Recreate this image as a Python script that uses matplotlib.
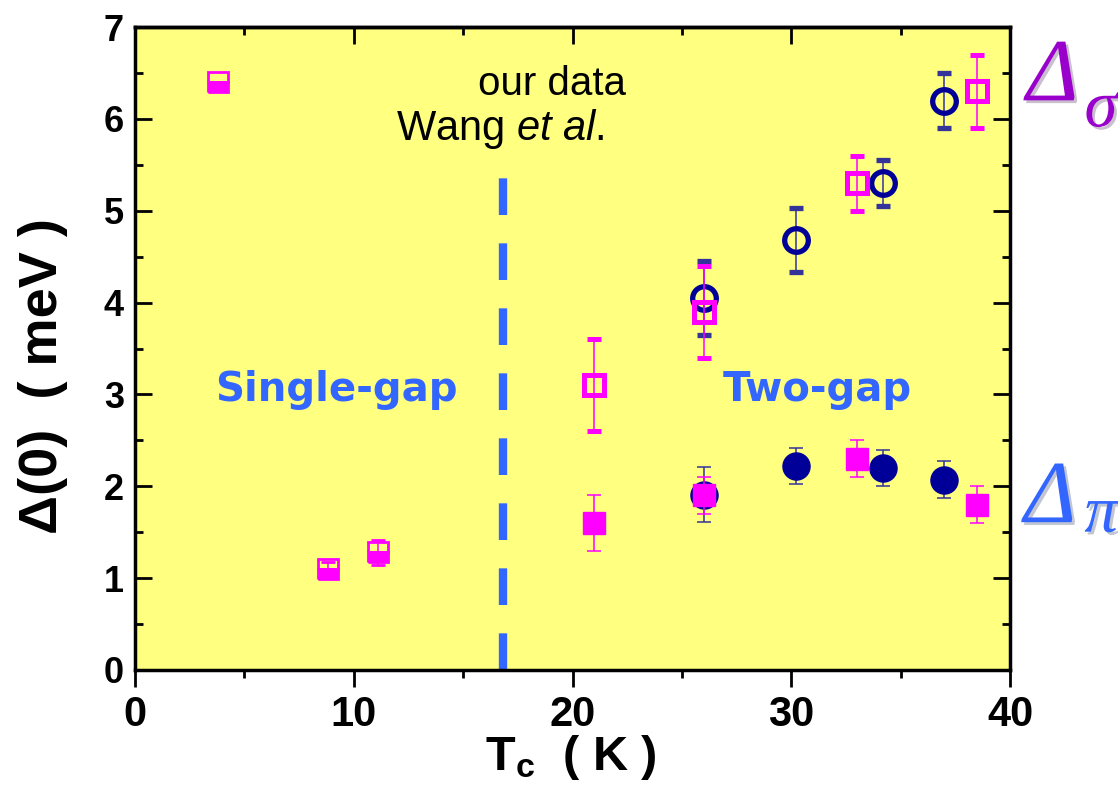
import matplotlib.pyplot as plt
import matplotlib.patheffects as pe
from matplotlib.ticker import MultipleLocator

plt.rcParams['mathtext.fontset'] = 'custom'
plt.rcParams['mathtext.rm'] = 'Liberation Sans'
plt.rcParams['mathtext.it'] = 'Liberation Sans:italic'
plt.rcParams['mathtext.bf'] = 'Liberation Sans:bold'

# sigma gap, our data (open circles) and pi gap (filled circles)
tc_ours = [26.0, 30.2, 34.2, 37.0]
sig_ours = [4.05, 4.68, 5.30, 6.20]
sig_ours_err = [0.40, 0.35, 0.25, 0.30]
pi_ours = [1.91, 2.22, 2.20, 2.07]
pi_ours_err = [0.30, 0.20, 0.20, 0.20]

# Wang et al., two-gap samples
tc_wang = [21.0, 26.0, 33.0, 38.5]
sig_wang = [3.10, 3.90, 5.30, 6.30]
sig_wang_err = [0.50, 0.50, 0.30, 0.40]
pi_wang = [1.60, 1.90, 2.30, 1.80]
pi_wang_err = [0.30, 0.20, 0.20, 0.20]

# Wang et al., single-gap samples
tc_single = [8.8, 11.1]
gap_single = [1.10, 1.28]
gap_single_err = [0.08, 0.14]

# key symbol
key_x = [3.8]
key_y = [6.4]

# single-gap / two-gap boundary
boundary_tc = 16.8
boundary_top = 5.4

navy = '#000099'
magenta = '#ff00ff'
blue = '#3366ff'

fig = plt.figure(figsize=(11.18, 7.9), dpi=100)
ax = fig.add_axes([0.1208, 0.1519, 0.7826, 0.8139])
ax.set_facecolor('#ffff80')

ax.vlines(boundary_tc, 0, boundary_top, color=blue, lw=6,
          linestyles=[(0, (4.4, 3.4))], zorder=1)

ebar = dict(elinewidth=1.1, capsize=5, capthick=1.1)
ax.errorbar(tc_ours, sig_ours, yerr=sig_ours_err, fmt='o', ms=17,
            mfc='none', mec=navy, mew=3.8, ecolor='#333399', zorder=3, **ebar)
ax.errorbar(tc_ours, pi_ours, yerr=pi_ours_err, fmt='o', ms=19.5,
            mfc=navy, mec=navy, ecolor='#333399', zorder=3, **ebar)
ax.errorbar(tc_wang, sig_wang, yerr=sig_wang_err, fmt='s', ms=14,
            mfc='none', mec=magenta, mew=3.6, ecolor=magenta, zorder=4, **ebar)
ax.errorbar(tc_wang, pi_wang, yerr=pi_wang_err, fmt='s', ms=16.5,
            mfc=magenta, mec=magenta, ecolor=magenta, zorder=4, **ebar)
ax.errorbar(tc_single, gap_single, yerr=gap_single_err, fmt='s', ms=15,
            fillstyle='bottom', mfc=magenta, mfcalt='none', mec=magenta,
            mew=2, ecolor=magenta, zorder=4, **ebar)
ax.plot(key_x, key_y, 's', ms=15, fillstyle='bottom', mfc=magenta,
        mfcalt='none', mec=magenta, mew=2, zorder=4)

ax.text(0.476, 0.912, 'our data', transform=ax.transAxes, fontsize=29,
        family='Liberation Sans', ha='center', va='center')
ax.text(0.418, 0.842, 'Wang $\\mathit{et\\ al.}$', transform=ax.transAxes,
        fontsize=30, family='Liberation Sans', ha='center', va='center')

ax.text(9.2, 3.05, 'Single-gap', fontsize=29, fontweight='bold', color=blue,
        family='DejaVu Sans', ha='center', va='center')
ax.text(31.2, 3.05, 'Two-gap', fontsize=29, fontweight='bold', color=blue,
        family='DejaVu Sans', ha='center', va='center')

shadow = [pe.SimplePatchShadow(offset=(2, -2), alpha=0.25), pe.Normal()]
greek = dict(style='italic', family='Liberation Serif', path_effects=shadow,
             ha='left', va='baseline')
fig.text(0.918, 0.873, 'Δ', fontsize=64, color='#9900cc', **greek)
fig.text(0.970, 0.840, 'σ', fontsize=48, color='#9900cc', **greek)
fig.text(0.916, 0.339, 'Δ', fontsize=64, color=blue, **greek)
fig.text(0.970, 0.327, 'π', fontsize=48, color=blue, **greek)

ax.set_xlim(0, 40)
ax.set_ylim(0, 7)
ax.xaxis.set_major_locator(MultipleLocator(10))
ax.xaxis.set_minor_locator(MultipleLocator(5))
ax.yaxis.set_major_locator(MultipleLocator(1))
ax.yaxis.set_minor_locator(MultipleLocator(0.5))
ax.tick_params(axis='y', which='both', direction='in', left=True, right=True,
               width=2)
ax.tick_params(axis='y', which='major', length=12)
ax.tick_params(axis='y', which='minor', length=6)
ax.tick_params(axis='x', which='both', direction='out', bottom=True, width=2)
ax.tick_params(axis='x', which='major', length=12)
ax.tick_params(axis='x', which='minor', length=6)
ax.tick_params(axis='x', labelsize=30, pad=6)
ax.tick_params(axis='y', labelsize=26, pad=8)
for lab in ax.get_xticklabels() + ax.get_yticklabels():
    lab.set_fontweight('bold')
    lab.set_family('Liberation Sans')

# inward ticks along the top edge
top = ax.secondary_xaxis('top')
top.xaxis.set_major_locator(MultipleLocator(10))
top.xaxis.set_minor_locator(MultipleLocator(5))
top.tick_params(which='both', direction='in', width=2, labeltop=False)
top.tick_params(which='major', length=12)
top.tick_params(which='minor', length=6)
top.spines['top'].set_linewidth(2.5)

for sp in ax.spines.values():
    sp.set_linewidth(2.5)

ax.set_xlabel('T$_\\mathbf{c}$  ( K )', fontsize=35, fontweight='bold',
              family='Liberation Sans')
ax.xaxis.set_label_coords(0.498, -0.098)
ax.set_ylabel('Δ(0)  ( meV )', fontsize=39, fontweight='bold',
              family='Liberation Sans')
ax.yaxis.set_label_coords(-0.077, 0.457)

fig.savefig('out.png', dpi=100)
